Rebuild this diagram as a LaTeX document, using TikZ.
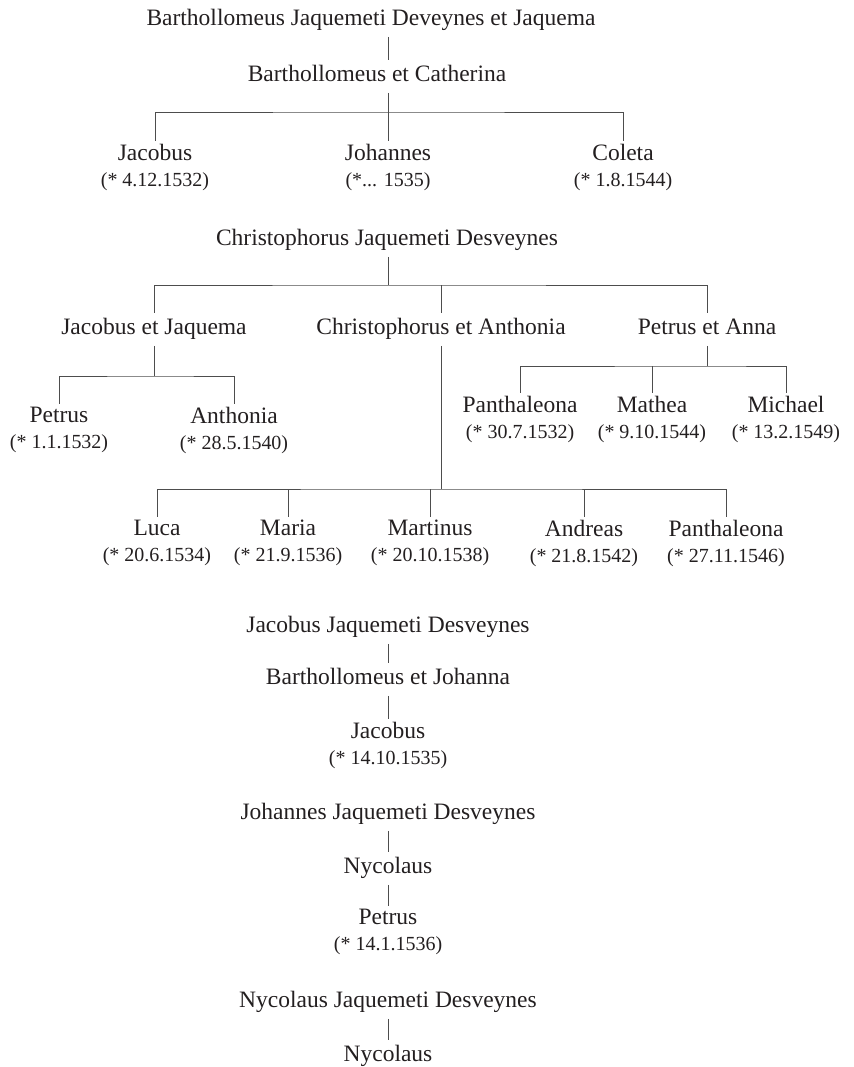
\documentclass[tikz,border=0pt]{standalone}
\usepackage{fontspec}
\setmainfont{Liberation Serif}
\usepackage{xcolor}
\usepackage{tikz}
\usetikzlibrary{positioning}
\definecolor{ink}{HTML}{231F20}
\definecolor{stem}{HTML}{4D4D4D}
\newcommand{\nmfont}{\fontsize{11.75pt}{13.25pt}\selectfont}
\newcommand{\dtfont}{\fontsize{10pt}{13.25pt}\selectfont}

\begin{document}
\begin{tikzpicture}[
  x=0.5pt, y=-0.5pt,
  every node/.style={font=\nmfont, text=ink},
  pers/.style={anchor=north, inner sep=1.5pt, align=center,
               execute at begin node=\strut},
  stemline/.style={draw=stem, line width=0.5pt}
]
\useasboundingbox (0,0) rectangle (853,1067);
% Barthollomeus
\node[pers] (bjd)  at (371,3.5)   {Barthollomeus Jaquemeti Deveynes et Jaquema};
\node[pers] (bcat) at (377,59.5)  {Barthollomeus et Catherina};
\node[pers] (jacA) at (155,140.5) {Jacobus\\{\dtfont (* 4.12.1532)}};
\node[pers] (johA) at (388,140.5) {Johannes\\{\dtfont (*... 1535)}};
\node[pers] (colA) at (623,140.5) {Coleta\\{\dtfont (* 1.8.1544)}};
% Christophorus
\node[pers] (cjd)  at (387,223.5) {Christophorus Jaquemeti Desveynes};
\node[pers] (jjaq) at (154,312.5) {Jacobus et Jaquema};
\node[pers] (cant) at (441,312.5) {Christophorus et Anthonia};
\node[pers] (pann) at (707,312.5) {Petrus et Anna};
\node[pers] (petA) at (59,403.5)  {Petrus\\{\dtfont (* 1.1.1532)}};
\node[pers] (antA) at (234,403.5) {Anthonia\\{\dtfont (* 28.5.1540)}};
\node[pers] (panA) at (520,392.5) {Panthaleona\\{\dtfont (* 30.7.1532)}};
\node[pers] (matA) at (652,392.5) {Mathea\\{\dtfont (* 9.10.1544)}};
\node[pers] (micA) at (786,392.5) {Michael\\{\dtfont (* 13.2.1549)}};
\node[pers] (lucA) at (157,516.5) {Luca\\{\dtfont (* 20.6.1534)}};
\node[pers] (marA) at (288,516.5) {Maria\\{\dtfont (* 21.9.1536)}};
\node[pers] (marB) at (430,516.5) {Martinus\\{\dtfont (* 20.10.1538)}};
\node[pers] (andA) at (584,516.5) {Andreas\\{\dtfont (* 21.8.1542)}};
\node[pers] (panB) at (726,516.5) {Panthaleona\\{\dtfont (* 27.11.1546)}};
% Jacobus
\node[pers] (jjd)  at (388,610.5) {Jacobus Jaquemeti Desveynes};
\node[pers] (bjoh) at (388,662.5) {Barthollomeus et Johanna};
\node[pers] (jacB) at (388,718.5) {Jacobus\\{\dtfont (* 14.10.1535)}};
% Johannes
\node[pers] (hjd)  at (388,797.5) {Johannes Jaquemeti Desveynes};
\node[pers] (nycA) at (388,851.5) {Nycolaus};
\node[pers] (petB) at (388,905.5) {Petrus\\{\dtfont (* 14.1.1536)}};
% Nycolaus
\node[pers] (njd)  at (388,985.5)  {Nycolaus Jaquemeti Desveynes};
\node[pers] (nycB) at (388,1039.5) {Nycolaus};
% Bars
\coordinate (barA) at (388,112);
\coordinate (barB) at (388,285);
\coordinate (barC) at (154,376);
\coordinate (barD) at (707,366);
\coordinate (barE) at (441,489);
% Lines first family
\draw[stemline] (bjd.south -| johA) -- (bcat.north -| johA);
\draw[stemline] (bcat.south -| johA) -- (johA);
\draw[stemline] (jacA.north) |- (barA) -| (colA.north);
% Lines second family
\draw[stemline] (cjd.south -| barB) -- (barB);
\draw[stemline] (jjaq.north) |- (barB) -| (pann.north);
\draw[stemline] (cant.north) -- (cant.north |- barB);
\draw[stemline] (jjaq) -- (barC);
\draw[stemline] (petA.north) |- (barC) -| (antA.north);
\draw[stemline] (pann) -- (barD);
\draw[stemline] (panA.north) |- (barD) -| (micA.north);
\draw[stemline] (matA.north) -- (matA.north |- barD);
\draw[stemline] (cant) -- (barE);
\draw[stemline] (lucA.north) |- (barE) -| (panB.north);
\draw[stemline] (marA.north) -- (marA.north |- barE);
\draw[stemline] (marB.north) -- (marB.north |- barE);
\draw[stemline] (andA.north) -- (andA.north |- barE);
% Lines single lines
\draw[stemline] (jjd)  -- (bjoh);
\draw[stemline] (bjoh) -- (jacB);
\draw[stemline] (hjd)  -- (nycA);
\draw[stemline] (nycA) -- (petB);
\draw[stemline] (njd)  -- (nycB);
\end{tikzpicture}
\end{document}
